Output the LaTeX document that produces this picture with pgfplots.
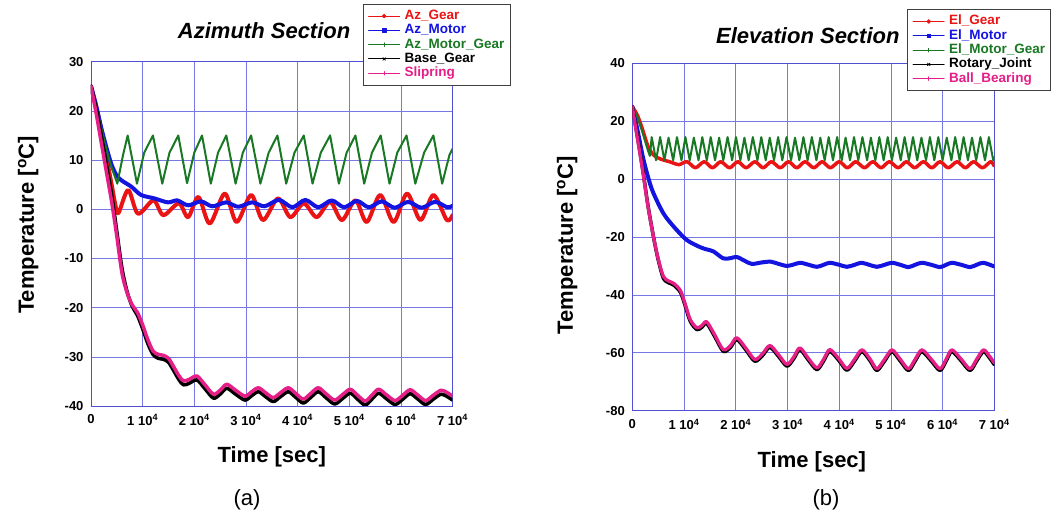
\documentclass[border=0pt]{standalone}
\usepackage{pgfplots}
\pgfplotsset{compat=1.18}
\usepackage{fontspec}
\setmainfont{Liberation Sans}

\definecolor{gridblue}{RGB}{120,120,228}
\definecolor{frameblue}{RGB}{80,80,210}
\definecolor{cred}{RGB}{235,20,20}
\definecolor{cblue}{RGB}{20,20,225}
\definecolor{cgreen}{RGB}{25,120,35}
\definecolor{cpink}{RGB}{230,30,135}

\pgfplotsset{
  legline/.style 2 args={legend image code/.code={
      \draw[#1,line width=1pt] (0pt,0pt)--(31pt,0pt);
      \draw[#1,line width=0.8pt,fill=#1] plot[mark=#2,mark size=1.8pt] coordinates {(15.5pt,0pt)};}},
  tchart/.style={
    scale only axis,
    xmin=0, xmax=7,
    xtick={0,1,...,7},
    xticklabels={0,1 10\textsuperscript{4},2 10\textsuperscript{4},3 10\textsuperscript{4},4 10\textsuperscript{4},5 10\textsuperscript{4},6 10\textsuperscript{4},7 10\textsuperscript{4}},
    grid=major,
    grid style={gridblue,line width=0.6pt},
    axis line style={frameblue,line width=0.8pt},
    major tick length=0pt,
    tick label style={font=\bfseries\fontsize{13}{15}\selectfont},
    yticklabel style={xshift=-4pt},
    xticklabel style={yshift=-5pt},
    /pgf/number format/assume math mode=true,
    xlabel={Time [sec]},
    ylabel={Temperature [\textsuperscript{o}C]},
    label style={font=\bfseries\fontsize{22}{24}\selectfont},
    title style={font=\bfseries\itshape\fontsize{22}{24}\selectfont,anchor=center},
    legend cell align=left,
    legend style={draw=black!75,fill=white,line width=0.6pt,
      font=\bfseries\fontsize{13.5}{14}\selectfont,
      inner sep=5pt,row sep=0.5pt,anchor=north west,
      nodes={inner sep=0.5pt,text height=9.8pt,text depth=3pt},
      /tikz/every odd column/.append style={column sep=4pt}},
    every axis plot/.append style={line join=round,line cap=round},
  }
}

\begin{document}
\begin{tikzpicture}
\path[use as bounding box] (0pt,0pt) rectangle (1055pt,521pt);

% ---------------- (a) Azimuth
\begin{axis}[tchart,
  at={(91pt,115pt)}, anchor=south west,
  width=361.5pt, height=344.3pt,
  ymin=-40, ymax=30, ytick={-40,-30,...,30},
  title={Azimuth Section},
  title style={at={(axis description cs:0.479,1.072)}},
  xlabel style={at={(axis description cs:0.5,-0.147)},anchor=center},
  ylabel style={at={(axis description cs:-0.174,0.526)},anchor=center},
  legend style={at={(axis description cs:0.752,1.168)}},
]
\addplot[cred,line width=4pt,smooth,legline={cred}{*}] coordinates {
 (0,25) (0.1,21) (0.2,16) (0.3,10.5) (0.4,5) (0.47,1) (0.53,-0.8) (0.72,3.9)
 (0.91,-0.9) (1.21,1.8) (1.40,-1.2) (1.70,1.2) (1.88,-1.6) (2.08,2.5)
 (2.30,-2.9) (2.59,3.2) (2.82,-2.6) (3.10,2.9) (3.33,-2.2) (3.62,2.2)
 (3.86,-1.6) (4.12,1.2) (4.37,-1.6) (4.63,1.5) (4.86,-2.2) (5.12,1.8)
 (5.34,-2.6) (5.60,2.9) (5.86,-2.6) (6.12,3.2) (6.38,-2.2) (6.63,2.9)
 (6.89,-2.2) (7.0,-1.2)};
\addlegendentry{\textcolor{cred}{Az\_Gear}}
\addplot[cblue,line width=4pt,smooth,legline={cblue}{square*}] coordinates {
 (0,25) (0.1,21) (0.2,16.5) (0.3,12.5) (0.4,9) (0.5,6.8) (0.6,5.8) (0.78,4.6)
 (0.97,2.9) (1.23,2.2) (1.49,1.4) (1.67,1.8) (1.88,0.8) (2.13,1.6) (2.35,0.6)
 (2.62,1.4) (2.85,0.5) (3.12,1.4) (3.36,0.6) (3.64,1.9) (3.90,0.4) (4.15,1.9)
 (4.40,0.4) (4.66,1.8) (4.90,0.4) (5.15,1.7) (5.38,0.4) (5.63,1.6) (5.88,0.3)
 (6.14,1.5) (6.40,0.3) (6.66,1.5) (6.90,0.4) (7.0,0.7)};
\addlegendentry{\textcolor{cblue}{Az\_Motor}}
\addplot[cgreen,line width=2pt,legline={cgreen}{+}] coordinates {
 (0,25) (0.1,21) (0.2,16.5) (0.3,12) (0.4,8.5) (0.51,5.2) (0.62,11) (0.71,15)
 (0.89,5.2) (1.03,11.5) (1.20,15) (1.38,5.2) (1.52,11.5) (1.69,15)
 (1.86,5.3) (2.00,11.5) (2.15,15) (2.32,5.2) (2.46,11.5) (2.62,15)
 (2.80,5.2) (2.94,11.5) (3.10,15) (3.28,5.2) (3.44,11.5) (3.61,15)
 (3.78,5.2) (3.94,11.5) (4.12,15) (4.29,5.2) (4.45,11.5) (4.63,15)
 (4.80,5.2) (4.95,11.5) (5.12,15) (5.29,5.2) (5.44,11.5) (5.61,15)
 (5.78,5.2) (5.93,11.5) (6.11,15) (6.28,5.2) (6.45,11.5) (6.63,15)
 (6.80,5.2) (6.94,11.0) (7.0,12.3)};
\addlegendentry{\textcolor{cgreen}{Az\_Motor\_Gear}}
\addplot[black,line width=3.5pt,smooth,legline={black}{x}] coordinates {
 (0,25) (0.1,20.5) (0.2,15) (0.3,9) (0.4,3) (0.5,-4.5) (0.6,-12) (0.7,-16.8)
 (0.8,-19.8) (0.9,-21.6) (1.0,-24.3) (1.1,-27.3) (1.2,-29.5) (1.3,-30.3)
 (1.4,-30.5) (1.5,-31.1) (1.6,-32.8) (1.7,-34.6) (1.79,-35.7) (1.9,-35.4)
 (2.05,-34.7) (2.2,-36.4) (2.37,-38.4) (2.5,-37.6) (2.63,-36.4) (2.8,-37.6)
 (2.98,-38.8) (3.1,-38.0) (3.24,-37.1) (3.38,-38.1) (3.53,-39.1) (3.67,-38.1)
 (3.82,-37.1) (3.96,-38.2) (4.11,-39.4) (4.25,-38.3) (4.40,-37.1) (4.56,-38.4)
 (4.72,-39.6) (4.87,-38.5) (5.02,-37.4) (5.16,-38.6) (5.31,-39.8) (5.44,-38.6)
 (5.57,-37.4) (5.73,-38.6) (5.89,-39.7) (6.04,-38.6) (6.18,-37.5) (6.33,-38.6)
 (6.48,-39.7) (6.63,-38.6) (6.78,-37.6) (6.9,-38.1) (7.0,-38.8)};
\addlegendentry{\textcolor{black}{Base\_Gear}}
\addplot[cpink,line width=3.5pt,smooth,legline={cpink}{+}] coordinates {
 (0,25) (0.1,19.5) (0.2,13.5) (0.3,7.5) (0.4,1.5) (0.5,-5.5) (0.6,-13) (0.7,-17)
 (0.8,-19.5) (0.9,-21) (1.0,-23.5) (1.1,-26.5) (1.2,-28.8) (1.3,-29.5)
 (1.4,-29.7) (1.5,-30.3) (1.6,-32) (1.7,-33.8) (1.79,-34.9) (1.9,-34.6)
 (2.05,-33.9) (2.2,-35.6) (2.37,-37.6) (2.5,-36.8) (2.63,-35.6) (2.8,-36.8)
 (2.98,-38.0) (3.1,-37.2) (3.24,-36.3) (3.38,-37.3) (3.53,-38.3) (3.67,-37.3)
 (3.82,-36.3) (3.96,-37.4) (4.11,-38.6) (4.25,-37.5) (4.40,-36.3) (4.56,-37.6)
 (4.72,-38.8) (4.87,-37.7) (5.02,-36.6) (5.16,-37.8) (5.31,-39.0) (5.44,-37.8)
 (5.57,-36.6) (5.73,-37.8) (5.89,-38.9) (6.04,-37.8) (6.18,-36.7) (6.33,-37.8)
 (6.48,-38.9) (6.63,-37.8) (6.78,-36.8) (6.9,-37.3) (7.0,-38.0)};
\addlegendentry{\textcolor{cpink}{Slipring}}
\end{axis}

% ---------------- (b) Elevation
\begin{axis}[tchart,
  at={(632.3pt,110.3pt)}, anchor=south west,
  width=362pt, height=347.4pt,
  ymin=-80, ymax=40, ytick={-80,-60,...,40},
  title={Elevation Section},
  title style={at={(axis description cs:0.485,1.061)}},
  xlabel style={at={(axis description cs:0.496,-0.148)},anchor=center},
  ylabel style={at={(axis description cs:-0.180,0.477)},anchor=center},
  legend style={at={(axis description cs:0.760,1.1555)}},
]
\addplot[cred,line width=3.5pt,smooth,legline={cred}{*}] coordinates {
 (0,25) (0.1,22) (0.2,17) (0.3,11.5) (0.4,8.5) (0.5,7.3) (0.6,6.6) (0.72,6.0)
 (0.9,5.0) (1.06,6.0) (1.22,3.9) (1.39,6.0) (1.55,3.9) (1.71,6.0) (1.88,3.9)
 (2.04,6.0) (2.20,3.9) (2.37,6.0) (2.53,3.9) (2.69,6.0) (2.86,3.9) (3.02,6.0)
 (3.18,3.9) (3.34,6.0) (3.51,3.9) (3.67,6.0) (3.83,3.9) (4.00,6.0) (4.16,3.9)
 (4.32,6.0) (4.49,3.9) (4.65,6.0) (4.81,3.9) (4.97,6.0) (5.14,3.9) (5.30,6.0)
 (5.46,3.9) (5.63,6.0) (5.79,3.9) (5.95,6.0) (6.11,3.9) (6.28,6.0) (6.44,3.9)
 (6.60,6.0) (6.77,3.9) (6.93,6.0) (7.0,4.5)};
\addlegendentry{\textcolor{cred}{El\_Gear}}
\addplot[cblue,line width=4pt,smooth,legline={cblue}{square*}] coordinates {
 (0,25) (0.1,17) (0.2,8) (0.3,1) (0.4,-4.5) (0.6,-11.8) (0.8,-16.4) (1.05,-21)
 (1.31,-23.5) (1.44,-24.3) (1.57,-25) (1.76,-27.4) (1.9,-27.3) (2.02,-26.9)
 (2.17,-28.2) (2.31,-29.3) (2.5,-28.8) (2.67,-28.5) (2.83,-29.3) (2.99,-30)
 (3.12,-29.5) (3.25,-28.9) (3.41,-29.6) (3.57,-30.3) (3.70,-29.6) (3.82,-28.9)
 (4.0,-29.6) (4.15,-30.3) (4.30,-29.6) (4.43,-28.9) (4.58,-29.6) (4.73,-30.3)
 (4.88,-29.6) (5.02,-28.9) (5.18,-29.6) (5.34,-30.4) (5.47,-29.6) (5.60,-28.9)
 (5.78,-29.6) (5.95,-30.4) (6.07,-29.6) (6.18,-28.9) (6.36,-29.6) (6.53,-30.4)
 (6.66,-29.6) (6.79,-28.9) (7.0,-30.2)};
\addlegendentry{\textcolor{cblue}{El\_Motor}}
\addplot[cgreen,line width=2pt,legline={cgreen}{+}] coordinates {
 (0,25) (0.1,21.5) (0.2,16) (0.3,10) (0.34,8)
 (0.375,14.5) (0.46,6.5) (0.538,14.5) (0.62,6.5) (0.701,14.3) (0.79,6.5)
 (0.864,14.5) (0.95,6.5) (1.027,14.5) (1.11,6.5) (1.190,14.3) (1.28,6.5)
 (1.353,14.5) (1.44,6.5) (1.516,14.5) (1.60,6.5) (1.679,14.3) (1.76,6.5)
 (1.842,14.5) (1.93,6.5) (2.005,14.5) (2.09,6.5) (2.168,14.3) (2.25,6.5)
 (2.331,14.5) (2.42,6.5) (2.494,14.5) (2.58,6.5) (2.657,14.3) (2.74,6.5)
 (2.820,14.5) (2.90,6.5) (2.983,14.5) (3.07,6.5) (3.146,14.3) (3.23,6.5)
 (3.309,14.5) (3.39,6.5) (3.472,14.5) (3.56,6.5) (3.635,14.3) (3.72,6.5)
 (3.798,14.5) (3.88,6.5) (3.961,14.5) (4.05,6.5) (4.124,14.3) (4.21,6.5)
 (4.287,14.5) (4.37,6.5) (4.450,14.5) (4.54,6.5) (4.613,14.3) (4.70,6.5)
 (4.776,14.5) (4.86,6.5) (4.939,14.5) (5.02,6.5) (5.102,14.3) (5.19,6.5)
 (5.265,14.5) (5.35,6.5) (5.428,14.5) (5.51,6.5) (5.591,14.3) (5.68,6.5)
 (5.754,14.5) (5.84,6.5) (5.917,14.5) (6.00,6.5) (6.080,14.3) (6.17,6.5)
 (6.243,14.5) (6.33,6.5) (6.406,14.5) (6.49,6.5) (6.569,14.3) (6.65,6.5)
 (6.732,14.5) (6.82,6.5) (6.895,14.5) (6.98,6.5) (7.0,7.5)};
\addlegendentry{\textcolor{cgreen}{El\_Motor\_Gear}}
\addplot[black,line width=3.5pt,smooth,legline={black}{x}] coordinates {
 (0,25) (0.1,14.5) (0.2,3.5) (0.3,-8.8) (0.41,-20) (0.5,-27.8) (0.6,-34.2)
 (0.7,-35.8) (0.8,-36.6) (0.93,-39.1) (1.02,-43.6) (1.12,-49.1) (1.25,-52)
 (1.35,-51.1) (1.44,-49.9) (1.6,-54.6) (1.76,-59.5) (1.9,-58.1) (2.02,-55.4)
 (2.2,-59.1) (2.37,-62.9) (2.52,-60.9) (2.66,-58.1) (2.83,-61.3) (2.99,-64.6)
 (3.12,-62.1) (3.24,-58.9) (3.40,-62.4) (3.57,-65.8) (3.70,-62.8) (3.82,-59.5)
 (4.0,-62.8) (4.15,-66) (4.30,-62.8) (4.44,-59.6) (4.6,-62.8) (4.73,-66.1)
 (4.88,-62.8) (5.02,-59.6) (5.18,-62.8) (5.34,-66.1) (5.47,-62.8) (5.60,-59.6)
 (5.78,-62.8) (5.95,-66.1) (6.07,-62.8) (6.18,-59.6) (6.36,-62.8) (6.53,-66.1)
 (6.66,-62.8) (6.79,-59.6) (6.9,-61.6) (7.0,-64.1)};
\addlegendentry{\textcolor{black}{Rotary\_Joint}}
\addplot[cpink,line width=3.3pt,smooth,legline={cpink}{+}] coordinates {
 (0,25) (0.1,14) (0.2,3) (0.3,-9) (0.41,-20) (0.5,-27.5) (0.6,-33.6) (0.7,-35.2)
 (0.8,-36) (0.93,-38.5) (1.02,-43) (1.12,-48.5) (1.25,-51.4) (1.35,-50.5)
 (1.44,-49.3) (1.6,-54) (1.76,-58.9) (1.9,-57.5) (2.02,-54.8) (2.2,-58.5)
 (2.37,-62.3) (2.52,-60.3) (2.66,-57.5) (2.83,-60.7) (2.99,-64) (3.12,-61.5)
 (3.24,-58.3) (3.40,-61.8) (3.57,-65.2) (3.70,-62.2) (3.82,-58.9) (4.0,-62.2)
 (4.15,-65.4) (4.30,-62.2) (4.44,-59) (4.6,-62.2) (4.73,-65.5) (4.88,-62.2)
 (5.02,-59) (5.18,-62.2) (5.34,-65.5) (5.47,-62.2) (5.60,-59) (5.78,-62.2)
 (5.95,-65.5) (6.07,-62.2) (6.18,-59) (6.36,-62.2) (6.53,-65.5) (6.66,-62.2)
 (6.79,-59) (6.9,-61) (7.0,-63.5)};
\addlegendentry{\textcolor{cpink}{Ball\_Bearing}}
\end{axis}

\node[font=\fontsize{22}{24}\selectfont] at (247pt,21pt) {(a)};
\node[font=\fontsize{22}{24}\selectfont] at (826pt,21pt) {(b)};
\end{tikzpicture}
\end{document}
